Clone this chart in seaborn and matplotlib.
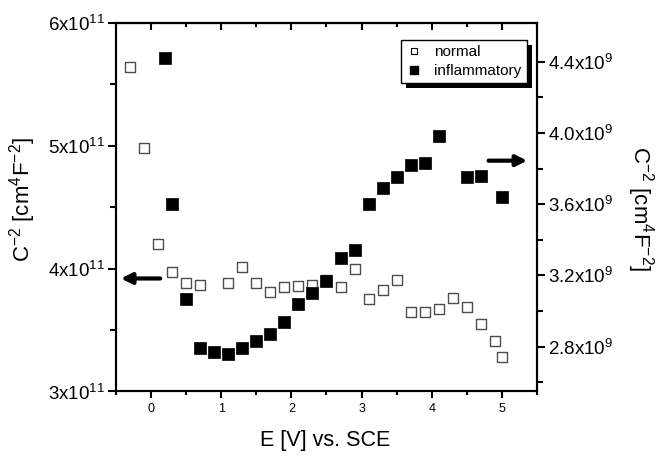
import matplotlib
matplotlib.use("Agg")
import matplotlib.pyplot as plt
import seaborn as sns
import pandas as pd
from matplotlib.lines import Line2D
from matplotlib.patches import Rectangle
from matplotlib.transforms import IdentityTransform

# --- DATA ---
normal_E = [-0.3, -0.1, 0.1, 0.3, 0.5, 0.7, 1.1, 1.3, 1.5, 1.7, 1.9, 2.1, 2.3, 2.5,
            2.7, 2.9, 3.1, 3.3, 3.5, 3.7, 3.9, 4.1, 4.3, 4.5, 4.7, 4.9, 5.0]
normal_C = [5.64, 4.98, 4.20, 3.97, 3.88, 3.87, 3.88, 4.01, 3.88, 3.81, 3.85, 3.86, 3.87, 3.91,
            3.85, 4.00, 3.75, 3.83, 3.91, 3.65, 3.65, 3.67, 3.76, 3.69, 3.55, 3.41, 3.28]  # x1e11

inflam_E = [0.2, 0.3, 0.5, 0.7, 0.9, 1.1, 1.3, 1.5, 1.7, 1.9, 2.1, 2.3, 2.5, 2.7,
            2.9, 3.1, 3.3, 3.5, 3.7, 3.9, 4.1, 4.5, 4.7, 5.0]
inflam_C = [4.42, 3.60, 3.07, 2.79, 2.77, 2.76, 2.79, 2.83, 2.87, 2.94, 3.04, 3.10, 3.17, 3.30,
            3.34, 3.60, 3.69, 3.75, 3.82, 3.83, 3.98, 3.75, 3.76, 3.64]  # x1e9

x_ticks = [0, 1, 2, 3, 4, 5]
x_minor = [-0.5, 0.5, 1.5, 2.5, 3.5, 4.5, 5.5]
left_ticks = [3e11, 4e11, 5e11, 6e11]
left_labels = [r"3x10$^{11}$", r"4x10$^{11}$", r"5x10$^{11}$", r"6x10$^{11}$"]
left_minor = [3.5e11, 4.5e11, 5.5e11]
right_ticks = [2.8e9, 3.2e9, 3.6e9, 4.0e9, 4.4e9]
right_labels = [r"2.8x10$^{9}$", r"3.2x10$^{9}$", r"3.6x10$^{9}$", r"4.0x10$^{9}$", r"4.4x10$^{9}$"]
right_minor = [2.6e9, 3.0e9, 3.4e9, 3.8e9, 4.2e9]

df_normal = pd.DataFrame({"E": normal_E, "C": [v * 1e11 for v in normal_C]})
df_inflam = pd.DataFrame({"E": inflam_E, "C": [v * 1e9 for v in inflam_C]})

# --- STYLE ---
sns.set_style("ticks")
plt.rcParams["font.family"] = ["Liberation Sans", "DejaVu Sans"]
plt.rcParams["mathtext.default"] = "regular"
plt.rcParams["axes.linewidth"] = 1.5
for key in ["text.color", "axes.labelcolor", "xtick.color", "ytick.color", "axes.edgecolor"]:
    plt.rcParams[key] = "black"

fig = plt.figure(figsize=(6.58, 4.61), dpi=100)
ax = fig.add_axes([0.1763, 0.1508, 0.6398, 0.7993])
ax2 = ax.twinx()

sns.scatterplot(data=df_normal, x="E", y="C", ax=ax, marker="s", s=62,
                facecolor="white", edgecolor="#4d4d4d", linewidth=1.0, legend=False)
sns.scatterplot(data=df_inflam, x="E", y="C", ax=ax2, marker="s", s=66,
                color="black", edgecolor="black", linewidth=0.5, legend=False)

ax.set_xlim(-0.5, 5.5)
ax.set_ylim(3e11, 6e11)
ax2.set_ylim(2.548e9, 4.617e9)

ax.set_xticks(x_ticks)
ax.set_xticks(x_minor, minor=True)
ax.set_yticks(left_ticks, labels=left_labels)
ax.set_yticks(left_minor, minor=True)
ax2.set_yticks(right_ticks, labels=right_labels)
ax2.set_yticks(right_minor, minor=True)

ax.tick_params(axis="x", which="both", direction="out", top=False, labelsize=9, width=1.5)
ax.tick_params(axis="x", which="major", length=5)
ax.tick_params(axis="x", which="minor", length=3)
ax.tick_params(axis="y", which="both", direction="out", labelsize=13.5, width=1.5, pad=2)
ax.tick_params(axis="y", which="major", length=6)
ax.tick_params(axis="y", which="minor", length=4)
ax2.tick_params(axis="y", which="both", direction="out", labelsize=13.5, width=1.5, pad=2)
ax2.tick_params(axis="y", which="major", length=6)
ax2.tick_params(axis="y", which="minor", length=4)

# top axis: inward ticks, no labels
top = ax.secondary_xaxis("top")
top.set_xticks(x_ticks)
top.set_xticks(x_minor, minor=True)
top.tick_params(axis="x", which="both", direction="in", labeltop=False, width=1.5)
top.tick_params(axis="x", which="major", length=5)
top.tick_params(axis="x", which="minor", length=3)
top.spines["top"].set_linewidth(1.5)

ax.set_xlabel("E [V] vs. SCE", fontsize=15.5, va="center")
ax.xaxis.set_label_coords(0.496, -0.133)
ax.set_ylabel(r"C$^{-2}$ [cm$^{4}$F$^{-2}$]", fontsize=16, va="center")
ax.yaxis.set_label_coords(-0.221, 0.522)
ax2.set_ylabel(r"C$^{-2}$ [cm$^{4}$F$^{-2}$]", fontsize=16, rotation=-90, va="center")
ax2.yaxis.set_label_coords(1.245, 0.497)

# arrows pointing to the corresponding axis
ax.annotate("", xy=(-0.47, 3.92e11), xytext=(0.17, 3.92e11),
            arrowprops=dict(arrowstyle="-|>", lw=3, color="black", mutation_scale=16))
ax2.annotate("", xy=(5.4, 3.844e9), xytext=(4.77, 3.844e9),
             arrowprops=dict(arrowstyle="-|>", lw=3, color="black", mutation_scale=16))

handles = [
    Line2D([], [], marker="s", ls="", mfc="white", mec="black", mew=0.8, ms=5, label="normal"),
    Line2D([], [], marker="s", ls="", mfc="black", mec="black", ms=6, label="inflammatory"),
]
leg = ax2.legend(handles=handles, loc="upper right", bbox_to_anchor=(0.976, 0.954),
                 fontsize=11, frameon=True, fancybox=False, edgecolor="black",
                 framealpha=1, handlelength=1.0, handletextpad=0.8,
                 borderpad=0.35, labelspacing=0.3, borderaxespad=0)
leg.get_frame().set_linewidth(1.0)

# Origin-style solid drop shadow behind the legend box
fig.canvas.draw()
bb = leg.get_window_extent()
shadow = Rectangle((bb.x0 + 5, bb.y0 - 5), bb.width, bb.height, transform=IdentityTransform(),
                   facecolor="black", edgecolor="none", zorder=leg.get_zorder() - 0.1)
ax2.add_artist(shadow)

fig.savefig("out.png", dpi=100)
